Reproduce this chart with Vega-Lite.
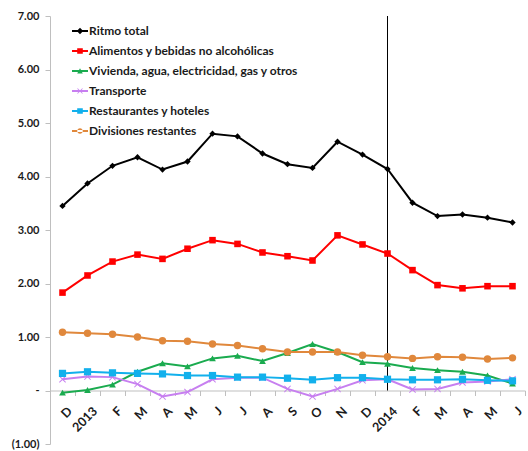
{
  "$schema": "https://vega.github.io/schema/vega-lite/v6.json",
  "width": 475,
  "height": 428,
  "autosize": "none",
  "padding": {"left": 50, "top": 16, "right": 3, "bottom": 7},
  "background": "white",
  "config": {"view": {"stroke": null}, "font": "Lato"},
  "data": {"values": [
    {"fecha": "2012-12", "Ritmo total": 3.45, "Alimentos y bebidas no alcohólicas": 1.83, "Vivienda, agua, electricidad, gas y otros": -0.04, "Transporte": 0.21, "Restaurantes y hoteles": 0.32, "Divisiones restantes": 1.09},
    {"fecha": "2013-01", "Ritmo total": 3.87, "Alimentos y bebidas no alcohólicas": 2.15, "Vivienda, agua, electricidad, gas y otros": 0.01, "Transporte": 0.26, "Restaurantes y hoteles": 0.35, "Divisiones restantes": 1.07},
    {"fecha": "2013-02", "Ritmo total": 4.20, "Alimentos y bebidas no alcohólicas": 2.41, "Vivienda, agua, electricidad, gas y otros": 0.11, "Transporte": 0.25, "Restaurantes y hoteles": 0.33, "Divisiones restantes": 1.05},
    {"fecha": "2013-03", "Ritmo total": 4.36, "Alimentos y bebidas no alcohólicas": 2.54, "Vivienda, agua, electricidad, gas y otros": 0.35, "Transporte": 0.12, "Restaurantes y hoteles": 0.32, "Divisiones restantes": 1.00},
    {"fecha": "2013-04", "Ritmo total": 4.13, "Alimentos y bebidas no alcohólicas": 2.46, "Vivienda, agua, electricidad, gas y otros": 0.51, "Transporte": -0.11, "Restaurantes y hoteles": 0.31, "Divisiones restantes": 0.93},
    {"fecha": "2013-05", "Ritmo total": 4.28, "Alimentos y bebidas no alcohólicas": 2.65, "Vivienda, agua, electricidad, gas y otros": 0.45, "Transporte": -0.03, "Restaurantes y hoteles": 0.28, "Divisiones restantes": 0.92},
    {"fecha": "2013-06", "Ritmo total": 4.80, "Alimentos y bebidas no alcohólicas": 2.81, "Vivienda, agua, electricidad, gas y otros": 0.60, "Transporte": 0.21, "Restaurantes y hoteles": 0.28, "Divisiones restantes": 0.87},
    {"fecha": "2013-07", "Ritmo total": 4.75, "Alimentos y bebidas no alcohólicas": 2.74, "Vivienda, agua, electricidad, gas y otros": 0.65, "Transporte": 0.24, "Restaurantes y hoteles": 0.25, "Divisiones restantes": 0.84},
    {"fecha": "2013-08", "Ritmo total": 4.43, "Alimentos y bebidas no alcohólicas": 2.58, "Vivienda, agua, electricidad, gas y otros": 0.55, "Transporte": 0.24, "Restaurantes y hoteles": 0.25, "Divisiones restantes": 0.78},
    {"fecha": "2013-09", "Ritmo total": 4.23, "Alimentos y bebidas no alcohólicas": 2.51, "Vivienda, agua, electricidad, gas y otros": 0.70, "Transporte": 0.03, "Restaurantes y hoteles": 0.23, "Divisiones restantes": 0.72},
    {"fecha": "2013-10", "Ritmo total": 4.16, "Alimentos y bebidas no alcohólicas": 2.43, "Vivienda, agua, electricidad, gas y otros": 0.87, "Transporte": -0.11, "Restaurantes y hoteles": 0.20, "Divisiones restantes": 0.72},
    {"fecha": "2013-11", "Ritmo total": 4.65, "Alimentos y bebidas no alcohólicas": 2.90, "Vivienda, agua, electricidad, gas y otros": 0.72, "Transporte": 0.03, "Restaurantes y hoteles": 0.24, "Divisiones restantes": 0.72},
    {"fecha": "2013-12", "Ritmo total": 4.41, "Alimentos y bebidas no alcohólicas": 2.73, "Vivienda, agua, electricidad, gas y otros": 0.53, "Transporte": 0.19, "Restaurantes y hoteles": 0.24, "Divisiones restantes": 0.66},
    {"fecha": "2014-01", "Ritmo total": 4.14, "Alimentos y bebidas no alcohólicas": 2.56, "Vivienda, agua, electricidad, gas y otros": 0.50, "Transporte": 0.21, "Restaurantes y hoteles": 0.21, "Divisiones restantes": 0.63},
    {"fecha": "2014-02", "Ritmo total": 3.51, "Alimentos y bebidas no alcohólicas": 2.25, "Vivienda, agua, electricidad, gas y otros": 0.42, "Transporte": 0.02, "Restaurantes y hoteles": 0.20, "Divisiones restantes": 0.60},
    {"fecha": "2014-03", "Ritmo total": 3.26, "Alimentos y bebidas no alcohólicas": 1.97, "Vivienda, agua, electricidad, gas y otros": 0.38, "Transporte": 0.03, "Restaurantes y hoteles": 0.20, "Divisiones restantes": 0.63},
    {"fecha": "2014-04", "Ritmo total": 3.29, "Alimentos y bebidas no alcohólicas": 1.91, "Vivienda, agua, electricidad, gas y otros": 0.35, "Transporte": 0.15, "Restaurantes y hoteles": 0.21, "Divisiones restantes": 0.62},
    {"fecha": "2014-05", "Ritmo total": 3.23, "Alimentos y bebidas no alcohólicas": 1.95, "Vivienda, agua, electricidad, gas y otros": 0.28, "Transporte": 0.17, "Restaurantes y hoteles": 0.19, "Divisiones restantes": 0.59},
    {"fecha": "2014-06", "Ritmo total": 3.14, "Alimentos y bebidas no alcohólicas": 1.95, "Vivienda, agua, electricidad, gas y otros": 0.13, "Transporte": 0.21, "Restaurantes y hoteles": 0.18, "Divisiones restantes": 0.61}
  ]},
  "transform": [
    {"fold": ["Ritmo total", "Alimentos y bebidas no alcohólicas", "Vivienda, agua, electricidad, gas y otros", "Transporte", "Restaurantes y hoteles", "Divisiones restantes"], "as": ["serie", "valor"]}
  ],
  "encoding": {
    "x": {
      "field": "fecha", "type": "ordinal",
      "scale": {"type": "band", "paddingInner": 0, "paddingOuter": 0},
      "axis": {
        "title": null, "offset": -53.5, "domainColor": "#bfbfbf", "tickColor": "#bfbfbf",
        "tickBand": "extent", "tickSize": 5, "labelAngle": -45, "labelAlign": "right", "labelBaseline": "top",
        "labelFontSize": 12.5, "labelFontWeight": "bold", "labelColor": "#1a1a1a", "labelPadding": 9, "labelOffset": 3,
        "labelExpr": "datum.value == '2013-01' ? '2013' : datum.value == '2014-01' ? '2014' : ['J','F','M','A','M','J','J','A','S','O','N','D'][toNumber(substring(datum.value,5,7))-1]"
      }
    },
    "y": {
      "field": "valor", "type": "quantitative",
      "scale": {"domain": [-1, 7], "nice": false, "zero": false},
      "axis": {
        "title": null, "values": [-1, 0, 1, 2, 3, 4, 5, 6, 7], "grid": false,
        "domainColor": "#bfbfbf", "tickColor": "#bfbfbf", "tickSize": 5,
        "labelFontSize": 11, "labelFontWeight": "bold", "labelColor": "#1a1a1a", "labelPadding": 6,
        "labelExpr": "datum.value == 0 ? '-' : datum.value < 0 ? '(' + format(-datum.value, '.2f') + ')' : format(datum.value, '.2f')"
      }
    },
    "color": {
      "field": "serie", "type": "nominal",
      "scale": {
        "domain": ["Ritmo total", "Alimentos y bebidas no alcohólicas", "Vivienda, agua, electricidad, gas y otros", "Transporte", "Restaurantes y hoteles", "Divisiones restantes"],
        "range": ["#000000", "#ff0000", "#1aab4f", "#c77ff0", "#12b0ec", "#e0883c"]
      },
      "legend": null
    }
  },
  "layer": [
    {
      "transform": [{"filter": {"field": "fecha", "equal": "2014-01"}}, {"filter": {"field": "serie", "equal": "Ritmo total"}}],
      "mark": {"type": "rule", "strokeWidth": 1},
      "encoding": {
        "y": {"datum": 0},
        "y2": {"datum": 7},
        "color": {"value": "#000000"}
      }
    },
    {
      "mark": {"type": "line", "strokeWidth": 2}
    },
    {
      "mark": {"type": "point", "filled": true, "opacity": 1},
      "encoding": {
        "shape": {
          "field": "serie", "type": "nominal",
          "scale": {
            "domain": ["Ritmo total", "Alimentos y bebidas no alcohólicas", "Vivienda, agua, electricidad, gas y otros", "Transporte", "Restaurantes y hoteles", "Divisiones restantes"],
            "range": ["diamond", "square", "triangle-up", "M-1,-0.8L-0.8,-1L0,-0.2L0.8,-1L1,-0.8L0.2,0L1,0.8L0.8,1L0,0.2L-0.8,1L-1,0.8L-0.2,0Z", "square", "circle"]
          },
          "legend": null
        },
        "size": {
          "field": "serie", "type": "nominal",
          "scale": {
            "domain": ["Ritmo total", "Alimentos y bebidas no alcohólicas", "Vivienda, agua, electricidad, gas y otros", "Transporte", "Restaurantes y hoteles", "Divisiones restantes"],
            "range": [40, 55, 30, 35, 55, 38]
          },
          "legend": null
        }
      }
    },
    {
      "transform": [{"filter": {"field": "serie", "equal": "__ninguno__"}}],
      "mark": {"type": "point", "filled": true, "opacity": 1},
      "encoding": {
        "color": {
          "field": "serie", "type": "nominal",
          "scale": {
            "domain": ["Ritmo total", "Alimentos y bebidas no alcohólicas", "Vivienda, agua, electricidad, gas y otros", "Transporte", "Restaurantes y hoteles", "Divisiones restantes"],
            "range": ["#000000", "#ff0000", "#1aab4f", "#c77ff0", "#12b0ec", "#e0883c"]
          },
          "legend": {
            "title": null, "orient": "none", "legendX": 22, "legendY": 7,
            "symbolSize": 256, "symbolStrokeWidth": 0, "labelFontSize": 12, "labelFontWeight": "bold", "labelColor": "#1a1a1a",
            "rowPadding": 6, "labelOffset": 1, "symbolOpacity": 1, "labelLimit": 0
          }
        },
        "shape": {
          "field": "serie", "type": "nominal",
          "scale": {
            "domain": ["Ritmo total", "Alimentos y bebidas no alcohólicas", "Vivienda, agua, electricidad, gas y otros", "Transporte", "Restaurantes y hoteles", "Divisiones restantes"],
            "range": [
              "M-1,-0.12H1V0.12H-1Z M0,-0.4L0.4,0L0,0.4L-0.4,0Z",
              "M-1,-0.12H1V0.12H-1Z M-0.35,-0.35H0.35V0.35H-0.35Z",
              "M-1,-0.12H1V0.12H-1Z M0,-0.35L0.35,0.3H-0.35Z",
              "M-1,-0.12H1V0.12H-1Z M-0.35,-0.28L-0.28,-0.35L0,-0.07L0.28,-0.35L0.35,-0.28L0.07,0L0.35,0.28L0.28,0.35L0,0.07L-0.28,0.35L-0.35,0.28L-0.07,0Z",
              "M-1,-0.12H1V0.12H-1Z M-0.35,-0.35H0.35V0.35H-0.35Z",
              "M-1,-0.12H1V0.12H-1Z M-0.35,0A0.35,0.35 0 1,0 0.35,0A0.35,0.35 0 1,0 -0.35,0Z"
            ]
          },
          "legend": {
            "title": null, "orient": "none", "legendX": 22, "legendY": 7,
            "symbolSize": 256, "symbolStrokeWidth": 0, "labelFontSize": 12, "labelFontWeight": "bold", "labelColor": "#1a1a1a",
            "rowPadding": 6, "labelOffset": 1, "symbolOpacity": 1, "labelLimit": 0
          }
        }
      }
    }
  ],
  "resolve": {"scale": {"shape": "independent", "size": "independent", "color": "independent"}, "legend": {"shape": "independent", "color": "independent"}}
}
